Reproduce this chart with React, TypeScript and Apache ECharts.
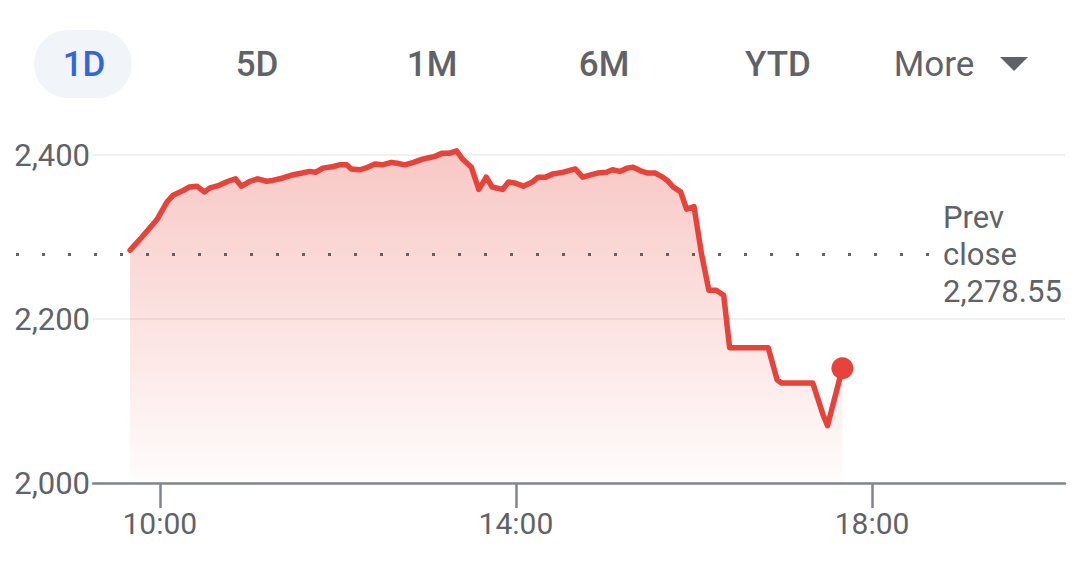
import { useEffect, useRef } from 'react';
import * as echarts from 'echarts';

const times = [
  '09:40','09:48','09:58','10:05','10:09','10:15','10:20','10:25','10:30','10:34',
  '10:40','10:46','10:51','10:55','11:01','11:06','11:12','11:16','11:23','11:30',
  '11:36','11:41','11:45','11:50','11:57','12:01','12:06','12:09','12:15','12:20',
  '12:25','12:30','12:36','12:40','12:45','12:51','12:57','13:02','13:05','13:10',
  '13:15','13:20','13:24','13:30','13:35','13:40','13:44','13:51','13:55','13:59',
  '14:05','14:11','14:15','14:20','14:25','14:32','14:40','14:45','14:51','14:55',
  '15:01','15:05','15:10','15:15','15:19','15:25','15:29','15:34','15:38','15:42',
  '15:46','15:51','15:55','16:00','16:05','16:10','16:15','16:20','16:24','16:50',
  '16:56','16:59','17:20','17:27','17:30','17:40',
];
const prices = [
  2284,2300,2321,2343,2351,2356,2361,2362,2355,2360,
  2363,2368,2371,2362,2368,2371,2368,2369,2372,2376,
  2378,2380,2379,2384,2386,2388,2388,2383,2382,2385,
  2389,2388,2391,2390,2388,2391,2395,2397,2398,2402,
  2402,2405,2395,2385,2358,2373,2361,2358,2367,2366,
  2362,2367,2373,2373,2377,2379,2383,2373,2376,2378,
  2379,2382,2380,2384,2385,2380,2378,2378,2374,2369,
  2361,2355,2334,2337,2280,2235,2235,2229,2165,2165,
  2126,2122,2122,2083,2070,2140,
];
const prevClose = 2278.55;
const yTickValues = [2000, 2200, 2400];
const xTickLabels = ['10:00', '14:00', '18:00'];
const axisRange = ['09:15', '20:10'];
const tabs = ['1D', '5D', '1M', '6M', 'YTD', 'More'];

const toMin = (s: string) => {
  const [h, m] = s.split(':').map(Number);
  return h * 60 + m;
};
const fmtTime = (v: number) => {
  const h = Math.floor(v / 60);
  const m = v % 60;
  return `${h}:${m < 10 ? '0' + m : m}`;
};

const RED = '#e6433a';
const GRAY = '#5f6368';
const FONT = 'Roboto, "Noto Sans", Arial, sans-serif';

export default function App() {
  const ref = useRef<HTMLDivElement>(null);
  useEffect(() => {
    if (!ref.current) return;
    const chart = echarts.init(ref.current, undefined, { renderer: 'svg' });
    const data = times.map((t, i) => [toMin(t), prices[i]]);
    const last = data[data.length - 1];
    const tabX = [84, 257, 432, 604, 778, 934];

    const tabGraphics: any[] = [
      {
        type: 'rect',
        shape: { x: 34, y: 30, width: 98, height: 68, r: 34 },
        style: { fill: '#f1f4f9' },
        z: 1,
      },
      ...tabs.map((t, i) => ({
        type: 'text',
        z: 2,
        style: {
          text: t,
          x: tabX[i],
          y: 64,
          align: 'center',
          verticalAlign: 'middle',
          fontFamily: FONT,
          fontSize: 35,
          fontWeight: t === 'More' ? 400 : 500,
          fill: i === 0 ? '#3367d6' : GRAY,
        },
      })),
      {
        type: 'polygon',
        z: 2,
        shape: { points: [[1000, 57], [1028, 57], [1014, 71]] },
        style: { fill: GRAY },
      },
    ];

    chart.setOption({
      animation: false,
      backgroundColor: '#ffffff',
      grid: { left: 93, right: 15, top: 155, bottom: 78, containLabel: false },
      xAxis: {
        type: 'value',
        min: toMin(axisRange[0]),
        max: toMin(axisRange[1]),
        axisLine: { show: true, lineStyle: { color: '#80868b', width: 2.5 } },
        axisTick: {
          show: true,
          length: 25,
          customValues: xTickLabels.map(toMin),
          lineStyle: { color: '#80868b', width: 2.5 },
        },
        axisLabel: {
          customValues: xTickLabels.map(toMin),
          formatter: (v: number) => fmtTime(v),
          color: GRAY,
          fontSize: 30,
          fontFamily: FONT,
          margin: 25,
        },
        splitLine: { show: false },
      },
      yAxis: {
        type: 'value',
        min: yTickValues[0],
        max: yTickValues[yTickValues.length - 1],
        interval: yTickValues[1] - yTickValues[0],
        axisLine: { show: false },
        axisTick: { show: false },
        axisLabel: {
          formatter: (v: number) => v.toLocaleString('en-US'),
          color: GRAY,
          fontSize: 31,
          fontFamily: FONT,
          margin: 3,
        },
        splitLine: { show: true, lineStyle: { color: '#ececec', width: 1.5 } },
      },
      series: [
        {
          type: 'line',
          data,
          clip: false,
          symbol: 'none',
          lineStyle: { color: RED, width: 5.5, join: 'round', cap: 'round' },
          areaStyle: {
            origin: 'start',
            color: new echarts.graphic.LinearGradient(0, 0, 0, 1, [
              { offset: 0, color: 'rgba(230,67,58,0.42)' },
              { offset: 1, color: 'rgba(230,67,58,0.02)' },
            ]),
          },
          z: 3,
        },
        {
          type: 'scatter',
          data: [last],
          symbol: 'circle',
          symbolSize: 22,
          itemStyle: { color: RED, opacity: 1 },
          clip: false,
          z: 4,
        },
      ],
      graphic: tabGraphics,
    });

    const yPrev = chart.convertToPixel({ yAxisIndex: 0 }, prevClose) as number;
    chart.setOption({
      graphic: [
        ...tabGraphics,
        {
          type: 'line',
          z: 10,
          shape: { x1: 16, y1: yPrev, x2: 936, y2: yPrev },
          style: { stroke: '#5f6368', lineWidth: 3, lineDash: [3, 23] },
        },
        {
          type: 'text',
          z: 10,
          style: {
            text: `Prev\nclose\n${prevClose.toLocaleString('en-US', { minimumFractionDigits: 2 })}`,
            x: 943,
            y: yPrev,
            align: 'left',
            verticalAlign: 'middle',
            lineHeight: 37,
            fontFamily: FONT,
            fontSize: 31,
            fill: GRAY,
          },
        },
      ],
    }, { replaceMerge: ['graphic'] });

    return () => chart.dispose();
  }, []);
  return (
    <div
      ref={ref}
      style={{ position: 'fixed', left: 0, top: 0, width: 1080, height: 561, background: '#fff' }}
    />
  );
}
